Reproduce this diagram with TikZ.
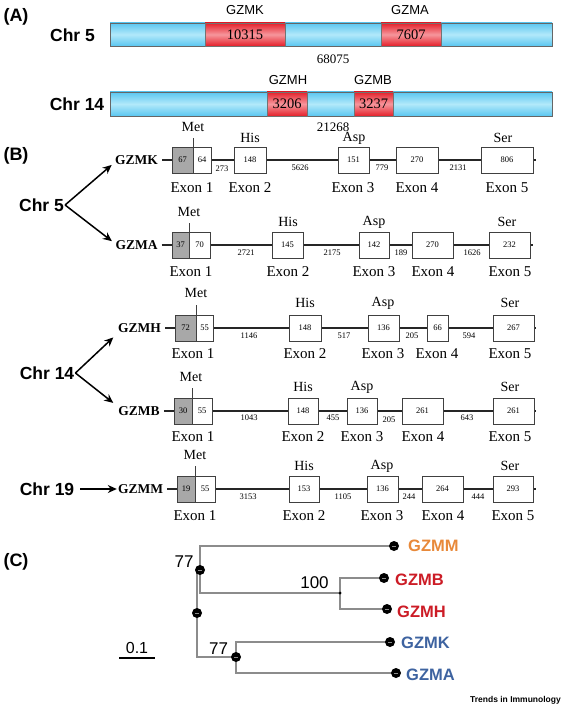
\documentclass[tikz,border=0pt]{standalone}
\usepackage{fontspec}
\setmainfont{Liberation Serif}
\setsansfont{Liberation Sans}
\usetikzlibrary{arrows.meta,backgrounds,calc}
\definecolor{barblue}{RGB}{90,198,240}
\definecolor{barbluem}{RGB}{178,233,250}
\definecolor{barred}{RGB}{228,32,42}
\definecolor{barredm}{RGB}{246,150,156}
\definecolor{exgray}{RGB}{168,168,168}
\definecolor{treegray}{RGB}{140,140,140}
\definecolor{gorange}{RGB}{232,137,58}
\definecolor{gred}{RGB}{204,28,38}
\definecolor{gblue}{RGB}{62,99,160}
\newcommand\numF{\fontsize{8.5}{9}\selectfont}
\newcommand\exF{\fontsize{15}{17}\selectfont}
\newcommand\resF{\fontsize{14}{16}\selectfont}
\newcommand\genF{\bfseries\fontsize{13.5}{15}\selectfont}
\newcommand\chrF{\sffamily\bfseries\fontsize{17.5}{20}\selectfont}
\newcommand\panF{\sffamily\bfseries\fontsize{18}{20}\selectfont}
\newcommand\treeF{\sffamily\bfseries\fontsize{16.5}{18}\selectfont}
\begin{document}
\begin{tikzpicture}[x=1pt,y=-1pt,
  panel/.style={font=\panF, inner sep=0pt},
  chr/.style={font=\chrF, inner sep=1pt},
  bluebar/.style={draw=black!60, line width=0.5pt, top color=barblue, bottom color=barblue, middle color=barbluem, inner sep=0pt},
  redbox/.style={draw=black!55, line width=0.5pt, top color=barred, bottom color=barred, middle color=barredm, inner sep=0pt, font=\fontsize{14.5}{16}\selectfont},
  alab/.style={font=\sffamily\fontsize{13}{15}\selectfont, inner sep=0pt},
  alen/.style={font=\fontsize{13}{15}\selectfont, inner sep=0pt},
  ex/.style={draw=black!75, line width=0.6pt, fill=white, minimum height=26, inner sep=0pt, font=\numF},
  exg/.style={ex, fill=exgray},
  exl/.style={font=\exF, inner sep=0pt},
  res/.style={font=\resF, inner sep=0pt},
  intr/.style={font=\numF, inner sep=0pt},
  gline/.style={line width=1.3pt, black!85},
  mtick/.style={line width=0.6pt, black!75},
  gname/.style={font=\genF, inner sep=1pt},
  bigarrow/.style={line width=1.5pt, -{Stealth[length=9pt,width=8pt]}},
  tree/.style={treegray, line width=2pt},
  tdot/.style={circle, fill=black, inner sep=0pt, minimum size=10,
     path picture={\draw[black!45, line width=0.7pt] ([xshift=-1.6pt]path picture bounding box.center) -- ([xshift=1.6pt]path picture bounding box.center);}},
  tlab/.style={font=\treeF, inner sep=0pt, anchor=west},
  boot/.style={font=\sffamily\fontsize{17}{19}\selectfont, inner sep=0pt}
]
\useasboundingbox (0,0) rectangle (565,708);

% ---------------- Panel A ----------------
\node[panel] (pA) at (16,17) {(A)};
\node[chr] (c5a) at (72.5,35) {Chr 5};
\node[bluebar, minimum width=442, minimum height=23] (bar5) at (331,34.5) {};
\node[redbox, minimum width=80, minimum height=23] (rK) at (245,34.5) {10315};
\node[redbox, minimum width=60, minimum height=23] (rA) at (411,34.5) {7607};
\node[alab] (lK) at (245,10) {GZMK};
\node[alab] (lA) at (410,10) {GZMA};
\node[alen] (len5) at (333,59) {68075};

\node[chr] (c14a) at (77,104) {Chr 14};
\node[bluebar, minimum width=442, minimum height=24] (bar14) at (331,104) {};
\node[redbox, minimum width=40, minimum height=24] (rH) at (287,104) {3206};
\node[redbox, minimum width=39, minimum height=24] (rB) at (373.5,104) {3237};
\node[alab] (lH) at (288,80) {GZMH};
\node[alab] (lB) at (373,80) {GZMB};
\node[alen] (len14) at (333,127) {21268};

% ---------------- Panel B ----------------
\node[panel] (pB) at (16,156) {(B)};
\node[chr] (c5b) at (41.5,205) {Chr 5};
\node[chr] (c14b) at (47,373) {Chr 14};
\node[chr] (c19b) at (47,489) {Chr 19};

% GZMK row
\node[gname] (gK) at (136.5,160) {GZMK};
\coordinate (kend) at (536,160);
\draw[gline] ([xshift=3pt]gK.east) -- (kend);
\node[exg, minimum width=21] (k1a) at (182.5,160) {67};
\node[ex, minimum width=18] (k1b) at (202,160) {64};
\node[ex, minimum width=32] (k2) at (250,160) {148};
\node[ex, minimum width=31] (k3) at (353.5,160) {151};
\node[ex, minimum width=42] (k4) at (417,160) {270};
\node[ex, minimum width=52] (k5) at (507,160) {806};
\node[intr] (ki1) at (222,169) {273};
\node[intr] (ki2) at (300,168) {5626};
\node[intr] (ki3) at (382,168) {779};
\node[intr] (ki4) at (458,168) {2131};
\node[res] (kmet) at (193,127) {Met};
\draw[mtick] (k1a.north east) -- ++(0,-9);
\node[res] (khis) at (250,138) {His};
\node[res] (kasp) at (354,138) {Asp};
\node[res] (kser) at (503,138) {Ser};
\node[exl] (ke1) at (192,188) {Exon 1};
\node[exl] (ke2) at (250,188) {Exon 2};
\node[exl] (ke3) at (353,188) {Exon 3};
\node[exl] (ke4) at (417,188) {Exon 4};
\node[exl] (ke5) at (507,188) {Exon 5};

% GZMA row
\node[gname] (gA) at (136.5,245) {GZMA};
\coordinate (aend) at (533,245);
\draw[gline] ([xshift=3pt]gA.east) -- (aend);
\node[exg, minimum width=17] (a1a) at (180.5,245) {37};
\node[ex, minimum width=21] (a1b) at (199.5,245) {70};
\node[ex, minimum width=31] (a2) at (287.5,245) {145};
\node[ex, minimum width=30] (a3) at (374,245) {142};
\node[ex, minimum width=41] (a4) at (432.5,245) {270};
\node[ex, minimum width=41] (a5) at (509.5,245) {232};
\node[intr] (ai1) at (246,253) {2721};
\node[intr] (ai2) at (332,253) {2175};
\node[intr] (ai3) at (401,253) {189};
\node[intr] (ai4) at (472,253) {1626};
\node[res] (amet) at (189,212) {Met};
\draw[mtick] (a1a.north east) -- ++(0,-9);
\node[res] (ahis) at (288,222) {His};
\node[res] (aasp) at (374,222) {Asp};
\node[res] (aser) at (507,222) {Ser};
\node[exl] (ae1) at (191,272) {Exon 1};
\node[exl] (ae2) at (288,272) {Exon 2};
\node[exl] (ae3) at (374,272) {Exon 3};
\node[exl] (ae4) at (433,272) {Exon 4};
\node[exl] (ae5) at (510,272) {Exon 5};

% GZMH row
\node[gname] (gH) at (139.5,328) {GZMH};
\coordinate (hend) at (536,328);
\draw[gline] ([xshift=3pt]gH.east) -- (hend);
\node[exg, minimum width=21] (h1a) at (185.5,328) {72};
\node[ex, minimum width=17] (h1b) at (204.5,328) {55};
\node[ex, minimum width=32] (h2) at (305,328) {148};
\node[ex, minimum width=31] (h3) at (383.5,328) {136};
\node[ex, minimum width=21] (h4) at (437.5,328) {66};
\node[ex, minimum width=41] (h5) at (513.5,328) {267};
\node[intr] (hi1) at (249,336) {1146};
\node[intr] (hi2) at (344,336) {517};
\node[intr] (hi3) at (412,336) {205};
\node[intr] (hi4) at (469,336) {594};
\node[res] (hmet) at (196,293) {Met};
\draw[mtick] (h1a.north east) -- ++(0,-10);
\node[res] (hhis) at (305,303) {His};
\node[res] (hasp) at (383,303) {Asp};
\node[res] (hser) at (510,303) {Ser};
\node[exl] (he1) at (193,354) {Exon 1};
\node[exl] (he2) at (305,354) {Exon 2};
\node[exl] (he3) at (383,354) {Exon 3};
\node[exl] (he4) at (437,354) {Exon 4};
\node[exl] (he5) at (510,354) {Exon 5};

% GZMB row
\node[gname] (gB) at (139,411) {GZMB};
\coordinate (bend) at (536,411);
\draw[gline] ([xshift=3pt]gB.east) -- (bend);
\node[exg, minimum width=18] (b1a) at (183,411) {30};
\node[ex, minimum width=20] (b1b) at (202,411) {55};
\node[ex, minimum width=30] (b2) at (303,411) {148};
\node[ex, minimum width=30] (b3) at (362,411) {136};
\node[ex, minimum width=41] (b4) at (422.5,411) {261};
\node[ex, minimum width=41] (b5) at (513.5,411) {261};
\node[intr] (bi1) at (249,418) {1043};
\node[intr] (bi2) at (333,418) {455};
\node[intr] (bi3) at (389,420) {205};
\node[intr] (bi4) at (467,418) {643};
\node[res] (bmet) at (191,377) {Met};
\draw[mtick] (b1a.north east) -- ++(0,-10);
\node[res] (bhis) at (303,387) {His};
\node[res] (basp) at (362,387) {Asp};
\node[res] (bser) at (510,387) {Ser};
\node[exl] (be1) at (193,437) {Exon 1};
\node[exl] (be2) at (303,437) {Exon 2};
\node[exl] (be3) at (362,437) {Exon 3};
\node[exl] (be4) at (423,437) {Exon 4};
\node[exl] (be5) at (510,437) {Exon 5};

% GZMM row
\node[gname] (gM) at (140.5,489) {GZMM};
\coordinate (mend) at (536,489);
\draw[gline] ([xshift=3pt]gM.east) -- (mend);
\node[exg, minimum width=18] (m1a) at (186,489) {19};
\node[ex, minimum width=20] (m1b) at (205,489) {55};
\node[ex, minimum width=30] (m2) at (304,489) {153};
\node[ex, minimum width=31] (m3) at (382.5,489) {136};
\node[ex, minimum width=41] (m4) at (442.5,489) {264};
\node[ex, minimum width=40] (m5) at (513,489) {293};
\node[intr] (mi1) at (248,497) {3153};
\node[intr] (mi2) at (343,497) {1105};
\node[intr] (mi3) at (409,497) {244};
\node[intr] (mi4) at (478,497) {444};
\node[res] (mmet) at (195,455) {Met};
\draw[mtick] (m1a.north east) -- ++(0,-10);
\node[res] (mhis) at (304,466) {His};
\node[res] (masp) at (382,466) {Asp};
\node[res] (mser) at (510,466) {Ser};
\node[exl] (me1) at (195,516) {Exon 1};
\node[exl] (me2) at (304,516) {Exon 2};
\node[exl] (me3) at (382,516) {Exon 3};
\node[exl] (me4) at (443,516) {Exon 4};
\node[exl] (me5) at (513,516) {Exon 5};

% chromosome arrows
\draw[bigarrow, shorten >=3pt] (c5b.east) -- ($(gK.west)+(0,3)$);
\draw[bigarrow, shorten >=3pt] (c5b.east) -- ($(gA.west)+(0,-2)$);
\draw[bigarrow, shorten >=5pt] (c14b.east) -- ($(gH.west)+(0,6)$);
\draw[bigarrow, shorten >=5pt] (c14b.east) -- ($(gB.west)+(0,-5)$);
\draw[bigarrow, line width=1.3pt, shorten <=5pt] (c19b.east) -- (gM.west);

% ---------------- Panel C ----------------
\node[panel] (pC) at (16,562) {(C)};
\node[tdot] (dR) at (197,613) {};
\node[tdot] (dU) at (200,570) {};
\node[tdot] (dL) at (236,657) {};
\node[circle, fill=black, inner sep=0pt, minimum size=3] (dBH) at (340,593) {};
\node[tdot] (tM) at (394,546) {};
\node[tdot] (tB) at (384,578) {};
\node[tdot] (tH) at (387,609) {};
\node[tdot] (tK) at (390,642) {};
\node[tdot] (tA) at (396,673) {};
\begin{scope}[on background layer]
\draw[tree] (dR.center) |- (dU.center);
\draw[tree] (dR.center) |- (dL.center);
\draw[tree] (dU.center) |- (tM.center);
\draw[tree] (dU.center) |- (dBH.center);
\draw[tree] (dBH.center) |- (tB.center);
\draw[tree] (dBH.center) |- (tH.center);
\draw[tree] (dL.center) |- (tK.center);
\draw[tree] (dL.center) |- (tA.center);
\end{scope}
\node[tlab, text=gorange] (nM) at (408,546) {GZMM};
\node[tlab, text=gred] (nB) at (395,580) {GZMB};
\node[tlab, text=gred] (nH) at (397,612) {GZMH};
\node[tlab, text=gblue] (nK) at (401,643) {GZMK};
\node[tlab, text=gblue] (nA) at (406,675) {GZMA};
\node[boot] (b77u) at (184,562) {77};
\node[boot] (b100) at (314.5,583) {100};
\node[boot] (b77l) at (218.5,649) {77};
\node[font=\sffamily\fontsize{16}{18}\selectfont, inner sep=0pt] (sc) at (137,648) {0.1};
\coordinate (sbL) at (119,658);
\coordinate (sbR) at (155,658);
\draw[line width=1.5pt] (sbL) -- (sbR);
\node[font=\sffamily\bfseries\fontsize{8.5}{9}\selectfont, inner sep=0pt, anchor=east] (ti) at (561,700) {Trends in Immunology};
\end{tikzpicture}
\end{document}
